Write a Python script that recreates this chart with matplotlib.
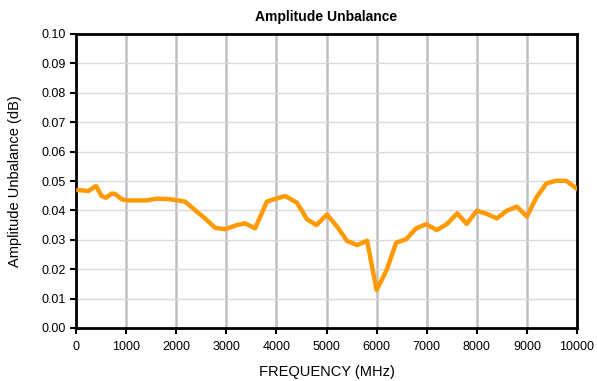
import matplotlib
matplotlib.use("Agg")
import matplotlib.pyplot as plt

freq = [50, 250, 400, 510, 600, 710, 780, 910, 1010, 1410, 1610, 1875, 2175, 2410,
        2575, 2775, 2975, 3210, 3375, 3575, 3810, 3975, 4175, 4410, 4610, 4800,
        5010, 5210, 5410, 5610, 5810, 6000, 6200, 6390, 6590, 6790, 6990, 7200,
        7400, 7610, 7800, 8000, 8200, 8400, 8600, 8800, 9000, 9190, 9390, 9590,
        9790, 9990]
unbal = [0.0469, 0.0466, 0.0483, 0.0449, 0.0443, 0.0457, 0.0456, 0.0438, 0.0434,
         0.0434, 0.0440, 0.0438, 0.0430, 0.0396, 0.0373, 0.0341, 0.0336, 0.0350,
         0.0356, 0.0339, 0.0430, 0.0439, 0.0449, 0.0426, 0.0370, 0.0350, 0.0386,
         0.0345, 0.0296, 0.0282, 0.0297, 0.0129, 0.0197, 0.0290, 0.0302, 0.0339,
         0.0353, 0.0333, 0.0353, 0.0390, 0.0354, 0.0399, 0.0388, 0.0373, 0.0399,
         0.0413, 0.0379, 0.0444, 0.0492, 0.0501, 0.0500, 0.0475]

xticks = list(range(0, 10001, 1000))
yticks = [i / 100 for i in range(0, 11)]

plt.rcParams['font.family'] = ['Liberation Sans', 'DejaVu Sans']
fig = plt.figure(figsize=(5.97, 3.81), dpi=100)
ax = fig.add_axes([76 / 597, 1 - 328 / 381, (577 - 76) / 597, (328 - 34) / 381])

for x in xticks[1:-1]:
    ax.axvline(x, color='#c0c0c0', lw=1.8, zorder=1)
for y in yticks[1:-1]:
    ax.axhline(y, color='#d9d9d9', lw=1.0, zorder=1)

ax.plot(freq, unbal, color='#ff9900', lw=3.2, solid_joinstyle='round', zorder=3)

ax.set_xlim(0, 10000)
ax.set_ylim(0, 0.10)
ax.set_xticks(xticks)
ax.set_yticks(yticks)
ax.set_yticklabels([f"{v:.2f}" for v in yticks])
ax.tick_params(axis='both', labelsize=9, direction='out', length=4, width=1.5, color='black')
ax.tick_params(axis='x', pad=5)
for s in ax.spines.values():
    s.set_linewidth(2)
    s.set_color('black')

ax.set_title('Amplitude Unbalance', fontsize=10, fontweight='bold', pad=9)
ax.set_xlabel('FREQUENCY (MHz)', fontsize=10.5, labelpad=9)
ax.set_ylabel('Amplitude Unbalance (dB)', fontsize=10.5, labelpad=14)

fig.savefig('out.png', dpi=100)
